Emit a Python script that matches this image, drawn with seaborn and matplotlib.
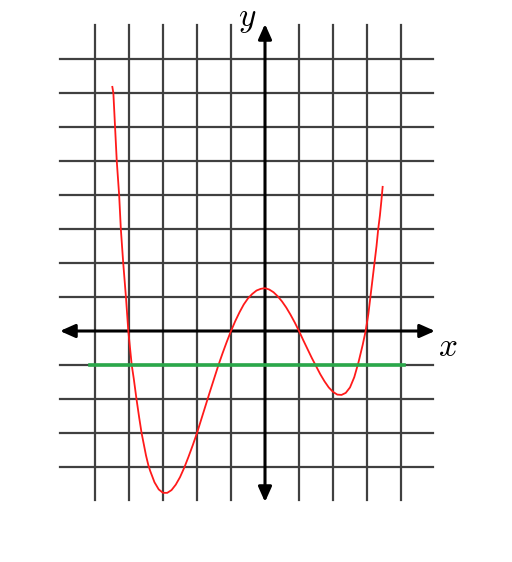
import matplotlib
matplotlib.use("Agg")
import matplotlib.pyplot as plt
from matplotlib.patches import FancyArrowPatch
import seaborn as sns
import pandas as pd

# ---- data ----
curve_x = [-4.49, -4.46, -4.41, -4.36, -4.29, -4.24, -4.17, -4.09, -4.02, -3.92,
           -3.86, -3.78, -3.7, -3.63, -3.5, -3.43, -3.375, -3.25, -3.125, -3.0,
           -2.875, -2.75, -2.625, -2.5, -2.375, -2.25, -2.125, -2.0, -1.875, -1.75,
           -1.625, -1.5, -1.375, -1.25, -1.125, -1.0, -0.875, -0.75, -0.625, -0.5,
           -0.375, -0.25, -0.125, 0.0, 0.125, 0.25, 0.375, 0.5, 0.625, 0.75,
           0.875, 1.0, 1.125, 1.25, 1.375, 1.5, 1.625, 1.75, 1.875, 2.0,
           2.125, 2.25, 2.375, 2.5, 2.625, 2.75, 2.875, 2.96, 3.04, 3.1,
           3.16, 3.22, 3.28, 3.33, 3.38, 3.42, 3.46]
curve_y = [7.18, 7.0, 6.0, 5.0, 4.0, 3.0, 2.0, 1.0, 0.0, -1.0,
           -1.4, -2.0, -2.55, -3.0, -3.66, -3.95, -4.12, -4.45, -4.66, -4.76,
           -4.76, -4.68, -4.52, -4.3, -4.02, -3.7, -3.36, -3.0, -2.6, -2.2,
           -1.8, -1.41, -1.02, -0.66, -0.32, 0.0, 0.29, 0.55, 0.78, 0.96,
           1.09, 1.19, 1.24, 1.26, 1.22, 1.14, 1.02, 0.87, 0.69, 0.48,
           0.25, 0.0, -0.27, -0.53, -0.79, -1.03, -1.27, -1.48, -1.66, -1.79,
           -1.87, -1.88, -1.82, -1.66, -1.36, -0.92, -0.4, 0.0, 0.5, 1.0,
           1.5, 2.0, 2.5, 3.0, 3.4, 3.8, 4.24]
hline_x = [-5.15, 4.1]
hline_y = [-1, -1]
grid_x = [-5, -4, -3, -2, -1, 1, 2, 3, 4]
grid_y = [-4, -3, -2, -1, 1, 2, 3, 4, 5, 6, 7, 8]
xaxis_range = [-6.03, 5.0]
yaxis_range = [-5.03, 9.03]
vgrid_span = [-4.97, 9.0]
hgrid_span = [-6.03, 4.94]
x_label = "$x$"
y_label = "$y$"

plt.rcParams['mathtext.fontset'] = 'cm'

fig = plt.figure(figsize=(5.12, 5.62), dpi=100)
ax = fig.add_axes([0, 0, 1, 1])

grid_col = '#404040'
for gx in grid_x:
    ax.plot([gx, gx], vgrid_span, color=grid_col, lw=1.6, zorder=1)
for gy in grid_y:
    ax.plot(hgrid_span, [gy, gy], color=grid_col, lw=1.6, zorder=1)

# axes with arrows
for (p0, p1) in [((xaxis_range[0], 0), (xaxis_range[1], 0)),
                 ((0, yaxis_range[0]), (0, yaxis_range[1]))]:
    arr = FancyArrowPatch(p0, p1, arrowstyle='<|-|>,head_length=0.9,head_width=0.4',
                          mutation_scale=10, lw=2.2, color='black',
                          shrinkA=0, shrinkB=0, zorder=2)
    ax.add_patch(arr)

df_curve = pd.DataFrame({'x': curve_x, 'y': curve_y})
sns.lineplot(data=df_curve, x='x', y='y', sort=False, estimator=None,
             color='#ff1a1a', lw=1.3, ax=ax, zorder=3)

df_h = pd.DataFrame({'x': hline_x, 'y': hline_y})
sns.lineplot(data=df_h, x='x', y='y', sort=False, estimator=None,
             color='#2aa84a', lw=2.6, ax=ax, zorder=4)

ax.set_xlim(-265 / 34, 247 / 34)
ax.set_ylim((331 - 562) / 34, 331 / 34)
ax.axis('off')

ax.text(5.38, -0.47, x_label, fontsize=24, ha='center', va='center')
ax.text(-0.53, 9.2, y_label, fontsize=24, ha='center', va='center')

fig.savefig('out.png', dpi=100)
